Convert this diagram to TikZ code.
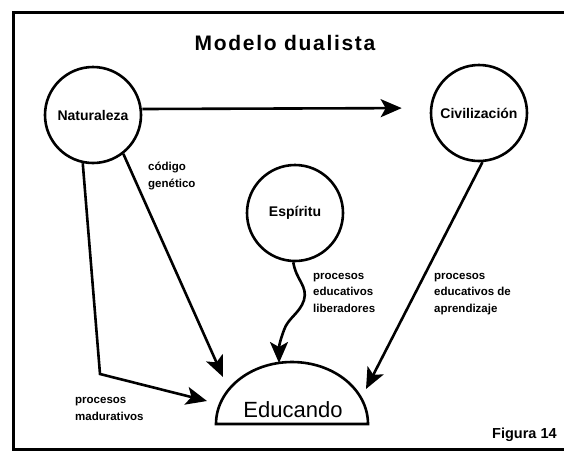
\documentclass[tikz,border=0pt]{standalone}
\usepackage{fontspec}
\setmainfont{Liberation Sans}
\newfontfamily\titlefont[LetterSpace=8]{Liberation Sans}
\usetikzlibrary{arrows.meta,calc}
\begin{document}
\begin{tikzpicture}[x=1pt,y=-1pt,
  every node/.style={inner sep=0pt},
  circ/.style={circle,draw,line width=2.6pt,minimum size=96pt,font=\bfseries\fontsize{14}{16}\selectfont},
  conn/.style={line width=2.6pt,-{Stealth[length=21pt,width=18pt,inset=5pt]}},
  lbl/.style={anchor=base west,align=left,font=\bfseries\fontsize{11.5}{16.5}\selectfont},
]
\useasboundingbox (0,0) rectangle (564,451);
\fill[white] (0,0) rectangle (564,451);
\draw[line width=3pt] (570,12) -- (13,12) -- (13,449) -- (570,449);

\node[font=\titlefont\bfseries\fontsize{21}{24}\selectfont,anchor=base] (title) at (285,50) {Modelo dualista};

\node[circ] (nat) at (93,115) {Naturaleza};
\node[circ] (civ) at (479,113) {Civilizaci\'on};
\node[circ] (esp) at (295,213) {Esp\'iritu};

\draw[line width=2.6pt] (216,424) arc[start angle=180,end angle=0,x radius=76pt,y radius=62pt] -- cycle;
\node[anchor=base,font=\fontsize{22}{24}\selectfont] (edu) at (293,417) {Educando};

\coordinate (tA) at (223,377);
\coordinate (tB) at (207,401);
\coordinate (tC) at (366,389);
\coordinate (tD) at (279,363);
\coordinate (bend) at (100,374);

\draw[conn,shorten >=28pt] ([yshift=6pt]nat.east) -- ([yshift=5pt]civ.west);
\draw[conn] (nat.-52) -- (tA);
\draw[conn] (nat.-102) -- (bend) -- (tB);
\draw[conn] (civ.-86) -- (tC);
\draw[conn] (esp.-92) .. controls (296,280) and (308,286) .. (304,300) .. controls (300,313) and (288,318) .. (284,330) .. controls (281,338) and (279,345) .. (tD);

\node[lbl] (l1) at (148,187) {c\'odigo\\gen\'etico};
\node[lbl] (l2) at (313,312) {procesos\\educativos\\liberadores};
\node[lbl] (l3) at (434,312) {procesos\\educativos de\\aprendizaje};
\node[lbl] (l4) at (75,420) {procesos\\madurativos};
\node[anchor=base west,font=\bfseries\fontsize{14.5}{16}\selectfont] (fig) at (492,438) {Figura 14};
\end{tikzpicture}
\end{document}
